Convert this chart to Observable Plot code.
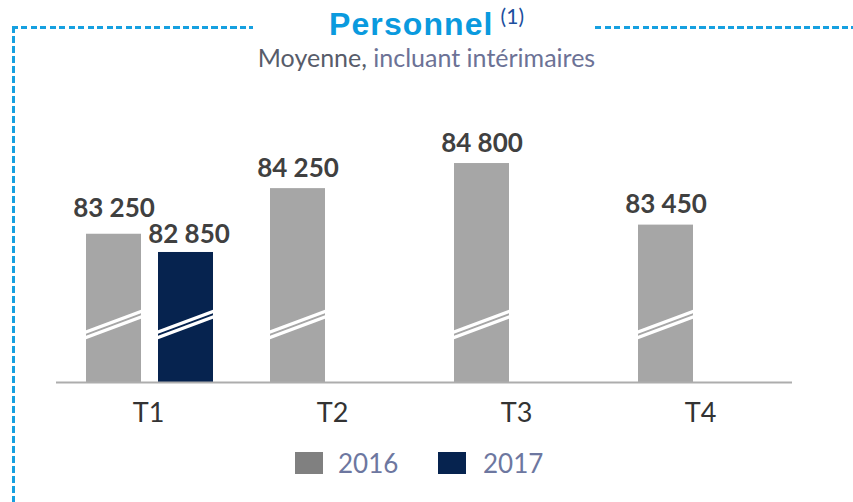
<!DOCTYPE html>
<html>
<head>
<meta charset="utf-8">
<script src="https://cdn.jsdelivr.net/npm/d3@7"></script>
<script src="https://cdn.jsdelivr.net/npm/@observablehq/plot@0.6"></script>
<style>
  html, body { margin: 0; padding: 0; background: #fff; }
  #wrap { position: relative; width: 853px; height: 502px; overflow: hidden; font-family: Lato, "Open Sans", sans-serif; }
  .dashH { position: absolute; height: 2.5px; background: repeating-linear-gradient(to right, #16a0e0 0 6px, transparent 6px 9.5px); }
  .dashV { position: absolute; width: 3px; background: repeating-linear-gradient(to bottom, #16a0e0 0 7px, transparent 7px 10px); }
  #title { position: absolute; left: 0; width: 853px; top: 7.5px; height: 32px; text-align: center; line-height: 1; white-space: nowrap; }
  #title .main { display: inline-block; line-height: 1; font-family: "Liberation Sans", Arial, sans-serif; font-size: 32px; font-weight: bold; color: #0a9ade; letter-spacing: 1.1px; }
  #title .note { display: inline-block; line-height: 1; font-family: Lato, sans-serif; font-size: 21px; color: #1d4f9e; position: relative; top: -11px; margin-left: 7px; }
  #subtitle { position: absolute; left: 0; width: 853px; top: 44.8px; text-align: center; font-size: 25px; line-height: 1; color: #6c7296; white-space: pre; }
  #subtitle span { display: inline-block; line-height: 1; }
  #subtitle .dark { color: #575c6a; }
  #chart { position: absolute; left: 0; top: 80px; }
  #chart g[aria-label="tick"] line { transform-box: fill-box; transform-origin: center; transform: skewY(-20.5deg); }
  .legend-swatch { position: absolute; width: 28px; height: 22px; }
  .legend-label { position: absolute; font-size: 26px; line-height: 1; color: #6d77a0; }
</style>
</head>
<body>
<div id="wrap">
  <div class="dashH" style="left:12px; top:26px; width:241px;"></div>
  <div class="dashH" style="left:595px; top:26px; width:258px;"></div>
  <div class="dashV" style="left:12px; top:26px; height:476px;"></div>
  <div id="title"><span class="main"></span><span class="note">(1)</span></div>
  <div id="subtitle"><span class="dark"></span><span class="rest"></span></div>
  <div id="chart"></div>
  <div id="legend"></div>
</div>
<script>
// ---- data ----
const quarters = ["T1", "T2", "T3", "T4"];
const years = ["2016", "2017"];
const values2016 = [83250, 84250, 84800, 83450];
const values2017 = [82850, null, null, null];
const yearColors = ["#a6a6a6", "#06234f"];
const legendColors = ["#808080", "#06234f"];
const title = "Personnel";
const subtitleLead = "Moyenne,";
const subtitleRest = " incluant intérimaires";

document.querySelector("#title .main").textContent = title;
document.querySelector("#subtitle .dark").textContent = subtitleLead;
document.querySelector("#subtitle .rest").textContent = subtitleRest;

// ---- table ----
const rows = [];
quarters.forEach((q, i) => {
  if (values2016[i] != null) rows.push({quarter: q, year: "2016", value: values2016[i], paired: values2017[i] != null});
  if (values2017[i] != null) rows.push({quarter: q, year: "2017", value: values2017[i], paired: true});
});

const axisBase = 80000;   // broken axis: bars start at this value
const breakAt = 81270;    // where the break marks are drawn
const fmt = v => d3.format(",")(v).replace(/,/g, " ");
const labelStyle = {fx: "quarter", x: "year", y: "value", text: d => fmt(d.value), fontSize: 26, fontWeight: "bold", fill: "#404040"};

const chart = Plot.plot({
  width: 853,
  height: 360,
  marginTop: 0,
  marginBottom: 58,
  marginLeft: 55,
  marginRight: 60,
  style: {fontFamily: "Lato, 'Open Sans', sans-serif", fontSize: "27px", color: "#333", background: "transparent"},
  fx: {domain: quarters, padding: 0, axis: "bottom", tickSize: 0, tickPadding: 20, label: null},
  x: {domain: years, axis: null, paddingInner: 0.233, paddingOuter: 0.38, align: 0.52},
  y: {domain: [axisBase, 86620], axis: null},
  color: {domain: years, range: yearColors},
  marks: [
    Plot.barY(rows, {fx: "quarter", x: "year", y1: axisBase, y2: "value", fill: "year"}),
    Plot.tickY(rows, {fx: "quarter", x: "year", y: () => breakAt, stroke: "white", strokeWidth: 3.5, dy: -2.75}),
    Plot.tickY(rows, {fx: "quarter", x: "year", y: () => breakAt, stroke: "white", strokeWidth: 3.5, dy: 2.75}),
    Plot.ruleY([axisBase], {stroke: "#adadad", strokeWidth: 2}),
    // single bars
    Plot.text(rows.filter(d => !d.paired), {...labelStyle, dy: -20}),
    // paired bars: left label raised, right label nudged right to avoid overlap
    Plot.text(rows.filter(d => d.paired && d.year === "2016"), {...labelStyle, dy: -26}),
    Plot.text(rows.filter(d => d.paired && d.year === "2017"), {...labelStyle, dy: -18, dx: 3})
  ]
});
document.getElementById("chart").appendChild(chart);

// ---- legend ----
const legend = document.getElementById("legend");
const legendPos = [{sw: 295, lab: 338}, {sw: 438, lab: 483}];
years.forEach((y, i) => {
  const s = document.createElement("div");
  s.className = "legend-swatch";
  s.style.left = legendPos[i].sw + "px";
  s.style.top = "452px";
  s.style.background = legendColors[i];
  legend.appendChild(s);
  const l = document.createElement("div");
  l.className = "legend-label";
  l.style.left = legendPos[i].lab + "px";
  l.style.top = "450px";
  l.textContent = y;
  legend.appendChild(l);
});
</script>
</body>
</html>
